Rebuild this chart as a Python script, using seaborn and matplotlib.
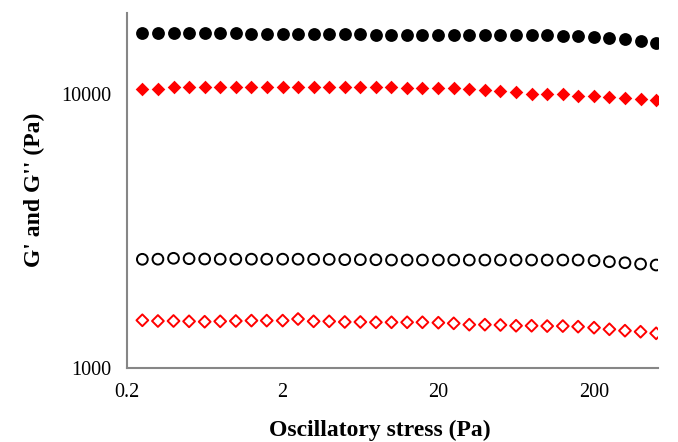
import matplotlib
matplotlib.use("Agg")
import matplotlib.pyplot as plt
import seaborn as sns
import pandas as pd
from matplotlib.ticker import FixedLocator, NullLocator, FixedFormatter

# ---- data ----
stress = [0.251, 0.316, 0.398, 0.501, 0.631, 0.794, 1.0, 1.26, 1.58, 2.0,
          2.51, 3.16, 3.98, 5.01, 6.31, 7.94, 10.0, 12.6, 15.8, 20.0,
          25.1, 31.6, 39.8, 50.1, 63.1, 79.4, 100.0, 126.0, 158.0, 200.0,
          251.0, 316.0, 398.0, 501.0]

g1_storage = [16750, 16750, 16750, 16700, 16700, 16700, 16700, 16650, 16650, 16650,
              16650, 16600, 16600, 16600, 16600, 16550, 16550, 16520, 16520, 16520,
              16520, 16520, 16520, 16520, 16520, 16520, 16480, 16380, 16290, 16160,
              16020, 15890, 15670, 15370]

g2_storage = [10430, 10440, 10650, 10650, 10640, 10650, 10650, 10630, 10630, 10630,
              10630, 10630, 10620, 10620, 10620, 10620, 10600, 10570, 10570, 10570,
              10520, 10460, 10370, 10280, 10200, 10050, 10025, 10025, 9880, 9860,
              9800, 9690, 9610, 9510]

g1_loss = [2492, 2495, 2513, 2505, 2498, 2495, 2495, 2495, 2495, 2495,
           2495, 2492, 2490, 2485, 2485, 2483, 2477, 2477, 2477, 2477,
           2477, 2477, 2477, 2477, 2477, 2477, 2477, 2477, 2477, 2463,
           2442, 2421, 2395, 2375]

g2_loss = [1491, 1482, 1482, 1478, 1473, 1478, 1482, 1487, 1487, 1487,
           1507, 1478, 1478, 1470, 1470, 1466, 1466, 1466, 1466, 1461,
           1453, 1437, 1437, 1433, 1424, 1424, 1420, 1420, 1413, 1401,
           1382, 1366, 1354, 1336]

x_ticks = [0.2, 2, 20, 200]
x_ticklabels = ["0.2", "2", "20", "200"]
y_ticks = [1000, 10000]
y_ticklabels = ["1000", "10000"]

df = pd.DataFrame({"stress": stress, "g1s": g1_storage, "g2s": g2_storage,
                   "g1l": g1_loss, "g2l": g2_loss})

sns.set_style("white")
plt.rcParams["font.family"] = ["Liberation Serif", "DejaVu Serif"]
plt.rcParams["text.color"] = "black"
plt.rcParams["axes.labelcolor"] = "black"

fig = plt.figure(figsize=(6.78, 4.42), dpi=100)
ax = fig.add_axes([0.1873, 0.1681, 0.9705 - 0.1873, 0.9713 - 0.1681])

sns.scatterplot(data=df, x="stress", y="g1s", marker="o", s=85,
                color="black", edgecolor="black", linewidth=0, ax=ax)
sns.scatterplot(data=df, x="stress", y="g2s", marker="D", s=48,
                color="#ff0000", edgecolor="#ff0000", linewidth=0, ax=ax)
sns.scatterplot(data=df, x="stress", y="g1l", marker="o", s=60,
                facecolors="none", edgecolor="black", linewidth=1.4, ax=ax)
sns.scatterplot(data=df, x="stress", y="g2l", marker="D", s=36,
                facecolors="none", edgecolor="#ff0000", linewidth=1.4, ax=ax)

ax.set_xscale("log")
ax.set_yscale("log")
ax.set_xlim(0.2, 515)
ax.set_ylim(1000, 19900)
ax.xaxis.set_major_locator(FixedLocator(x_ticks))
ax.xaxis.set_major_formatter(FixedFormatter(x_ticklabels))
ax.xaxis.set_minor_locator(NullLocator())
ax.yaxis.set_major_locator(FixedLocator(y_ticks))
ax.yaxis.set_major_formatter(FixedFormatter(y_ticklabels))
ax.yaxis.set_minor_locator(NullLocator())

for side in ["top", "right"]:
    ax.spines[side].set_visible(False)
for side in ["left", "bottom"]:
    ax.spines[side].set_color("#868686")
    ax.spines[side].set_linewidth(1.5)

ax.tick_params(axis="both", which="major", direction="out", length=5,
               width=1.2, color="#868686", labelsize=14.5, labelcolor="black", pad=6)

ax.set_xlabel("Oscillatory stress (Pa)", fontsize=17, fontweight="bold",
              color="black", labelpad=13)
ax.xaxis.label.set_x(0.476)
ax.set_ylabel("G' and G'' (Pa)", fontsize=17, fontweight="bold",
              color="black", labelpad=12)

fig.savefig("out.png", dpi=100, facecolor="white")
